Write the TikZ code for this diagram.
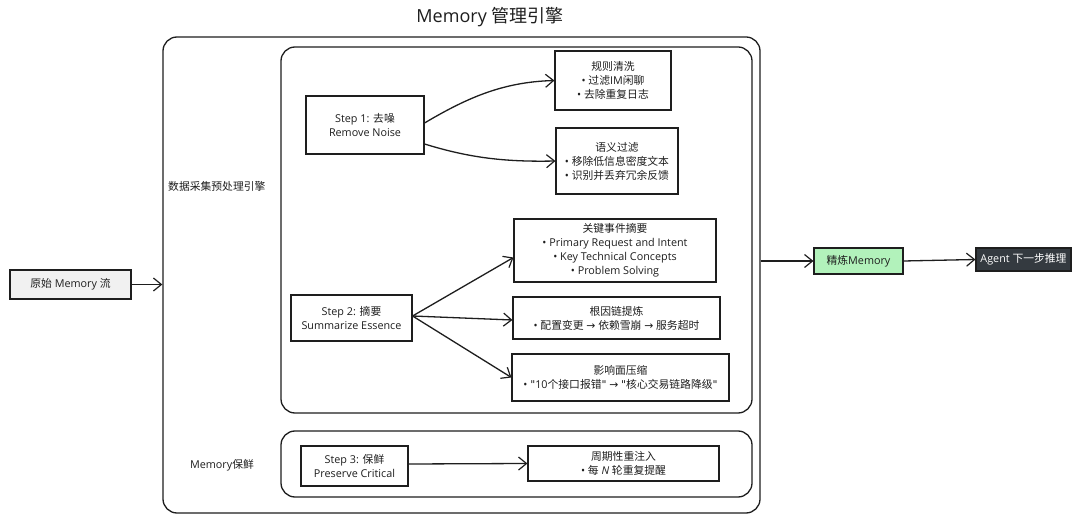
\documentclass[tikz,border=0pt]{standalone}
\usepackage{fontspec}
\setmainfont{Open Sans}
\newfontfamily\cjk[Scale=1.0]{Noto Sans CJK SC}
\newfontfamily\symf{DejaVu Sans}
\newcommand\zh[1]{{\cjk #1}}
\newcommand\ar{{\symf →}}
\newcommand\qq{{\symf "}}
\usetikzlibrary{arrows.meta,calc}
\definecolor{ink}{HTML}{1E1E1E}
\definecolor{srcfill}{HTML}{F1F1F1}
\definecolor{greenfill}{HTML}{B2F2BB}
\definecolor{darkfill}{HTML}{343A40}
\tikzset{
  box/.style={draw=ink, line width=1.1pt, inner sep=0pt, align=center, font=\fontsize{10.8}{14}\selectfont, text=ink},
  container/.style={draw=ink, line width=1.3pt, rounded corners=14pt, inner sep=0pt},
  conn/.style={draw=ink, line width=1.3pt, -{Straight Barb[length=8pt,width=13pt,line width=1.2pt]}},
  lbl/.style={font=\fontsize{10.8}{14}\selectfont, text=ink, inner sep=0pt}
}
\begin{document}
\begin{tikzpicture}[x=1pt,y=-1pt]
\useasboundingbox (0,0) rectangle (1080,529);
\fill[white] (0,0) rectangle (1080,529);
% title
\node[font=\fontsize{18}{20}\selectfont, text=ink, inner sep=0pt] (title) at (490,17) {Memory \zh{管理引擎}};
% containers
\node[container, minimum width=597pt, minimum height=476pt] (outer) at (461.5,275) {};
\node[container, minimum width=471pt, minimum height=366pt] (pre) at (516.5,230) {};
\node[container, minimum width=471pt, minimum height=66pt] (fresh) at (516.5,464) {};
\node[lbl, anchor=west] (prelbl) at (168,186) {\zh{数据采集预处理引擎}};
\node[lbl] (freshlbl) at (222,465) {Memory\zh{保鲜}};
% boxes
\node[box, fill=srcfill, minimum width=121pt, minimum height=29pt] (src) at (70.5,284.5) {\zh{原始} Memory \zh{流}};
\node[box, minimum width=118pt, minimum height=58pt] (step1) at (365,125) {Step 1: \zh{去噪}\\Remove Noise};
\node[box, minimum width=116pt, minimum height=59pt] (rule) at (613,80.5) {\zh{规则清洗}\\• \zh{过滤}IM\zh{闲聊}\\• \zh{去除重复日志}};
\node[box, minimum width=122pt, minimum height=66pt] (sem) at (617,161) {\zh{语义过滤}\\• \zh{移除低信息密度文本}\\• \zh{识别并丢弃冗余反馈}};
\node[box, minimum width=202pt, minimum height=63pt] (key) at (615,250.5) {\zh{关键事件摘要}\\• Primary Request and Intent\\• Key Technical Concepts\\• Problem Solving};
\node[box, minimum width=121pt, minimum height=46pt] (step2) at (351.5,318) {Step 2: \zh{摘要}\\Summarize Essence};
\node[box, minimum width=207pt, minimum height=42pt] (root) at (616.5,318) {\zh{根因链提炼}\\• \zh{配置变更} \ar{} \zh{依赖雪崩} \ar{} \zh{服务超时}};
\node[box, minimum width=217pt, minimum height=47pt] (impact) at (620.5,377.5) {\zh{影响面压缩}\\• \qq{}10\zh{个接口报错}\qq{} \ar{} \qq{}\zh{核心交易链路降级}\qq{}};
\node[box, minimum width=107pt, minimum height=40pt] (step3) at (354.5,466) {Step 3: \zh{保鲜}\\Preserve Critical};
\node[box, minimum width=191pt, minimum height=35pt] (period) at (623.5,463.5) {\zh{周期性重注入}\\• \zh{每} \textit{N} \zh{轮重复提醒}};
\node[box, fill=greenfill, minimum width=89pt, minimum height=26pt] (refine) at (858.5,261) {\zh{精炼}Memory};
\node[box, fill=darkfill, text=white, minimum width=95pt, minimum height=23pt] (agent) at (1023.5,259.5) {Agent \zh{下一步推理}};
% connectors
\draw[conn] (src.east) -- (src.east -| outer.west);
\draw[conn] ([yshift=2pt]step1.east) .. controls (470,96) and (505,82) .. (rule.west);
\draw[conn] ([yshift=-19pt]step1.east) .. controls (470,158) and (505,162) .. (sem.west);
\draw[conn] ([yshift=2pt]step2.east) -- ([yshift=-7pt]key.west);
\draw[conn] ([yshift=2pt]step2.east) -- ([yshift=-2pt]root.west);
\draw[conn] ([yshift=2pt]step2.east) -- (impact.west);
\draw[conn] ([yshift=2pt]step3.east) -- ([yshift=0pt]period.west);
\draw[conn] (outer.east |- refine.west) -- (refine.west);
\draw[conn] (refine.east) -- (agent.west);
\end{tikzpicture}
\end{document}
